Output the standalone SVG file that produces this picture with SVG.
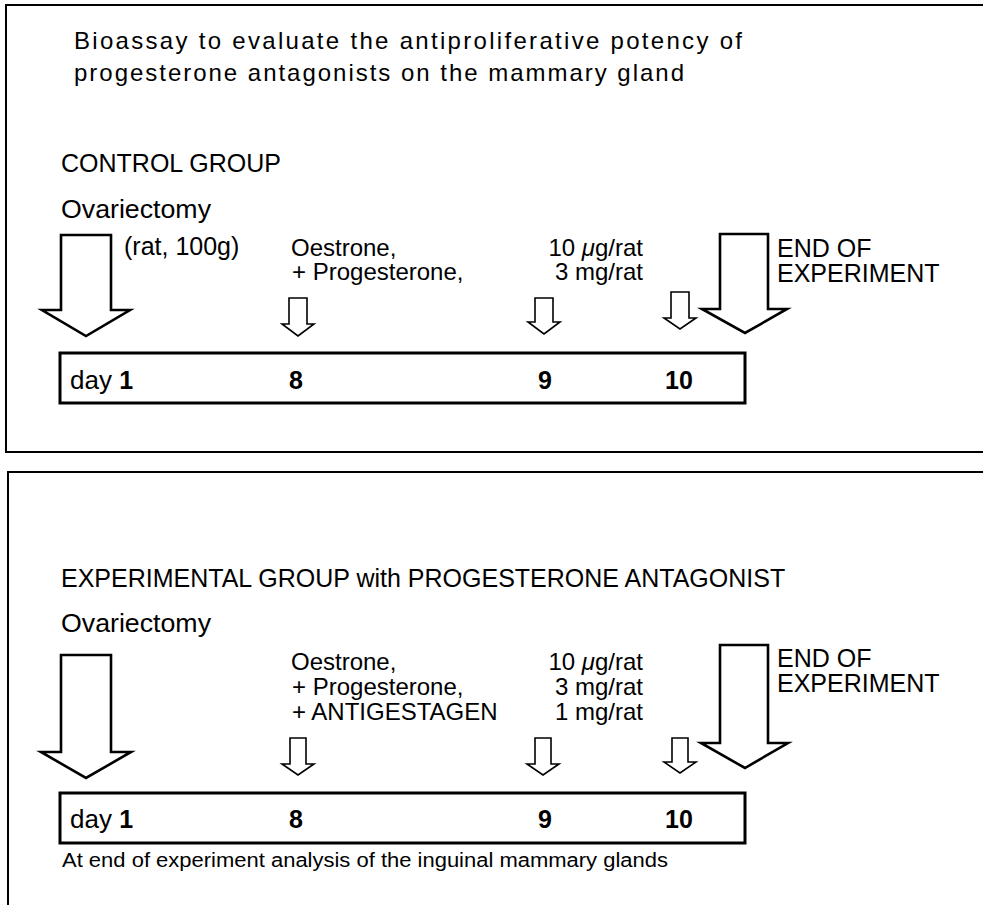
<svg xmlns="http://www.w3.org/2000/svg" width="983" height="905" viewBox="0 0 983 905">
<style>
  .frame { fill: none; stroke: #000; stroke-width: 2; }
  .arrow { fill: #fff; stroke: #000; stroke-width: 2.6; stroke-linejoin: miter; }
  .small { fill: #fff; stroke: #000; stroke-width: 1.6; }
  .box { fill: #fff; stroke: #000; stroke-width: 3; }
  text { font-family: "Liberation Sans", Arial, sans-serif; fill: #000; }
  .title { font-size: 24px; }
  .lbl { font-size: 25px; }
  .dose { font-size: 24px; }
  .day { font-size: 26px; }
  .num { font-size: 25px; font-weight: bold; }
  .note { font-size: 20px; }
</style>
<rect width="983" height="905" fill="#fff"/>

<g id="panel-control">
  <polyline class="frame" points="983,5 6,5 6,452 983,452"/>
  <text class="title" x="74" y="49" textLength="668" lengthAdjust="spacing">Bioassay to evaluate the antiproliferative potency of</text>
  <text class="title" x="74" y="81" textLength="610" lengthAdjust="spacing">progesterone antagonists on the mammary gland</text>
  <text class="lbl" x="61" y="172">CONTROL GROUP</text>
  <text class="lbl" x="61" y="218" textLength="150" lengthAdjust="spacingAndGlyphs">Ovariectomy</text>

  <g id="c-ovx-arrow">
    <polygon class="arrow" points="61,235 111,235 111,310 130,310 86,336 42,310 61,310"/>
    <text class="lbl" x="124" y="255">(rat, 100g)</text>
  </g>
  <g id="c-dose">
    <text class="dose" x="291" y="256">Oestrone,</text>
    <text class="dose" x="292" y="280">+ Progesterone,</text>
    <text class="dose" x="643" y="256" text-anchor="end">10 <tspan font-style="italic">μ</tspan>g/rat</text>
    <text class="dose" x="643" y="280" text-anchor="end">3 mg/rat</text>
  </g>
  <g id="c-arrow-8"><polygon class="small" points="289,298 307,298 307,324 314,324 298,336 282,324 289,324"/></g>
  <g id="c-arrow-9"><polygon class="small" points="535,298 553,298 553,322 560,322 544,334 528,322 535,322"/></g>
  <g id="c-arrow-10"><polygon class="small" points="671,292 689,292 689,318 696,318 680,329 664,318 671,318"/></g>
  <g id="c-end">
    <polygon class="arrow" points="720,234 768,234 768,309 787,309 745,333 702,309 720,309"/>
    <text class="lbl" x="777" y="257">END OF</text>
    <text class="lbl" x="777" y="282">EXPERIMENT</text>
  </g>
  <g id="c-timeline">
    <rect class="box" x="60" y="353" width="685" height="50"/>
    <text class="day" x="70" y="389">day <tspan class="num">1</tspan></text>
    <text class="num" x="289" y="389">8</text>
    <text class="num" x="538" y="389">9</text>
    <text class="num" x="665" y="389">10</text>
  </g>
</g>

<g id="panel-experimental">
  <polyline class="frame" points="983,472 8,472 8,905"/>
  <text class="lbl" x="61" y="587">EXPERIMENTAL GROUP with PROGESTERONE ANTAGONIST</text>
  <text class="lbl" x="61" y="632" textLength="150" lengthAdjust="spacingAndGlyphs">Ovariectomy</text>

  <g id="e-ovx-arrow">
    <polygon class="arrow" points="61,655 111,655 111,752 131,752 86,778 41,752 61,752"/>
  </g>
  <g id="e-dose">
    <text class="dose" x="291" y="670">Oestrone,</text>
    <text class="dose" x="292" y="695">+ Progesterone,</text>
    <text class="dose" x="292" y="720">+ ANTIGESTAGEN</text>
    <text class="dose" x="643" y="670" text-anchor="end">10 <tspan font-style="italic">μ</tspan>g/rat</text>
    <text class="dose" x="643" y="695" text-anchor="end">3 mg/rat</text>
    <text class="dose" x="643" y="720" text-anchor="end">1 mg/rat</text>
  </g>
  <g id="e-arrow-8"><polygon class="small" points="290,738 306,738 306,764 314,764 298,775 282,764 290,764"/></g>
  <g id="e-arrow-9"><polygon class="small" points="535,738 551,738 551,764 559,764 543,775 527,764 535,764"/></g>
  <g id="e-arrow-10"><polygon class="small" points="672,738 688,738 688,762 696,762 680,773 664,762 672,762"/></g>
  <g id="e-end">
    <polygon class="arrow" points="720,645 768,645 768,743 788,743 745,768 701,743 720,743"/>
    <text class="lbl" x="777" y="667">END OF</text>
    <text class="lbl" x="777" y="692">EXPERIMENT</text>
  </g>
  <g id="e-timeline">
    <rect class="box" x="60" y="793" width="685" height="50"/>
    <text class="day" x="70" y="828">day <tspan class="num">1</tspan></text>
    <text class="num" x="289" y="828">8</text>
    <text class="num" x="538" y="828">9</text>
    <text class="num" x="665" y="828">10</text>
  </g>
  <text class="note" x="62" y="867" textLength="606" lengthAdjust="spacingAndGlyphs">At end of experiment analysis of the inguinal mammary glands</text>
</g>
</svg>
